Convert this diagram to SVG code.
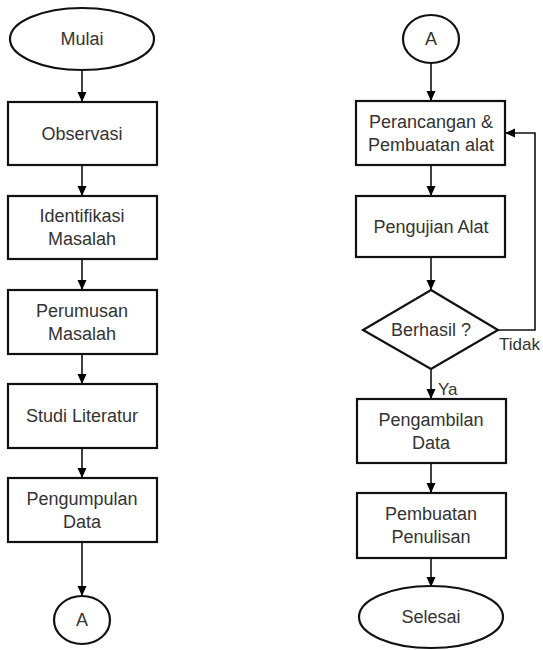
<svg xmlns="http://www.w3.org/2000/svg" width="543" height="650" viewBox="0 0 543 650">
<defs>
<marker id="arr" markerUnits="userSpaceOnUse" markerWidth="12" markerHeight="12" viewBox="0 0 12 12" refX="11" refY="6" orient="auto">
<path d="M1,1.5 L11,6 L1,10.5 Z" fill="#000"/>
</marker>
</defs>
<style>
.box{fill:#fff;stroke:#111;stroke-width:2.2}
.sh{fill:none;stroke:#bbb;stroke-width:1}
.t{font-family:"Liberation Sans",Arial,sans-serif;font-size:18px;fill:#333;text-anchor:middle;dominant-baseline:central}
.lbl{font-family:"Liberation Sans",Arial,sans-serif;font-size:17px;fill:#333}
.c{fill:none;stroke:#111;stroke-width:1.6;marker-end:url(#arr)}
</style>
<rect width="543" height="650" fill="#fff"/>
<g id="connectors">
<line class="c" x1="82" y1="70" x2="82" y2="102"/>
<line class="c" x1="82" y1="165" x2="82" y2="196"/>
<line class="c" x1="82" y1="259" x2="82" y2="290"/>
<line class="c" x1="82" y1="354" x2="82" y2="384"/>
<line class="c" x1="82" y1="448" x2="82" y2="478"/>
<line class="c" x1="82" y1="542" x2="82" y2="596"/>
<line class="c" x1="431" y1="63" x2="431" y2="101"/>
<line class="c" x1="431" y1="165" x2="431" y2="196"/>
<line class="c" x1="431" y1="257" x2="431" y2="290"/>
<line class="c" x1="431" y1="369" x2="431" y2="399"/>
<line class="c" x1="431" y1="463" x2="431" y2="493"/>
<line class="c" x1="431" y1="558" x2="431" y2="587"/>
<polyline class="c" points="498,330 535,330 535,133 505,133"/>
<text class="lbl" x="438" y="395">Ya</text>
<text class="lbl" x="499" y="350">Tidak</text>
</g>
<g id="mulai">
<ellipse class="box" cx="82" cy="39" rx="72" ry="31"/>
<text class="t" x="82" y="39">Mulai</text>
</g>
<g id="observasi">
<rect class="box" x="8" y="102" width="149" height="63"/>
<text class="t" x="82" y="133.5">Observasi</text>
</g>
<g id="identifikasi">
<rect class="box" x="8" y="196" width="149" height="63"/>
<text class="t" x="82" y="216">Identifikasi</text>
<text class="t" x="82" y="239">Masalah</text>
</g>
<g id="perumusan">
<rect class="box" x="8" y="290" width="149" height="64"/>
<text class="t" x="82" y="310.5">Perumusan</text>
<text class="t" x="82" y="333.5">Masalah</text>
</g>
<g id="studi">
<rect class="box" x="8" y="384" width="149" height="64"/>
<text class="t" x="82" y="416">Studi Literatur</text>
</g>
<g id="pengumpulan">
<rect class="box" x="8" y="478" width="149" height="64"/>
<text class="t" x="82" y="498.5">Pengumpulan</text>
<text class="t" x="82" y="521.5">Data</text>
</g>
<g id="a-left">
<ellipse class="box" cx="82" cy="620" rx="28" ry="24"/>
<text class="t" x="82" y="620">A</text>
</g>
<g id="a-right">
<ellipse class="box" cx="431" cy="39" rx="28" ry="24"/>
<text class="t" x="431" y="39">A</text>
</g>
<g id="perancangan">
<rect class="box" x="356" y="101" width="149" height="64"/>
<text class="t" x="431" y="121.5">Perancangan &amp;</text>
<text class="t" x="431" y="144.5">Pembuatan alat</text>
</g>
<g id="pengujian">
<rect class="box" x="356" y="196" width="149" height="61"/>
<text class="t" x="431" y="226.5">Pengujian Alat</text>
</g>
<g id="berhasil">
<polygon class="box" points="431,290 498,330 431,369 363,330"/>
<text class="t" x="431" y="330">Berhasil ?</text>
</g>
<g id="pengambilan">
<rect class="box" x="357" y="399" width="149" height="64"/>
<text class="t" x="431" y="419.5">Pengambilan</text>
<text class="t" x="431" y="442.5">Data</text>
</g>
<g id="pembuatan">
<rect class="box" x="357" y="493" width="149" height="65"/>
<text class="t" x="431" y="514">Pembuatan</text>
<text class="t" x="431" y="537">Penulisan</text>
</g>
<g id="selesai">
<ellipse class="box" cx="431" cy="617" rx="72" ry="31"/>
<text class="t" x="431" y="617">Selesai</text>
</g>
</svg>
